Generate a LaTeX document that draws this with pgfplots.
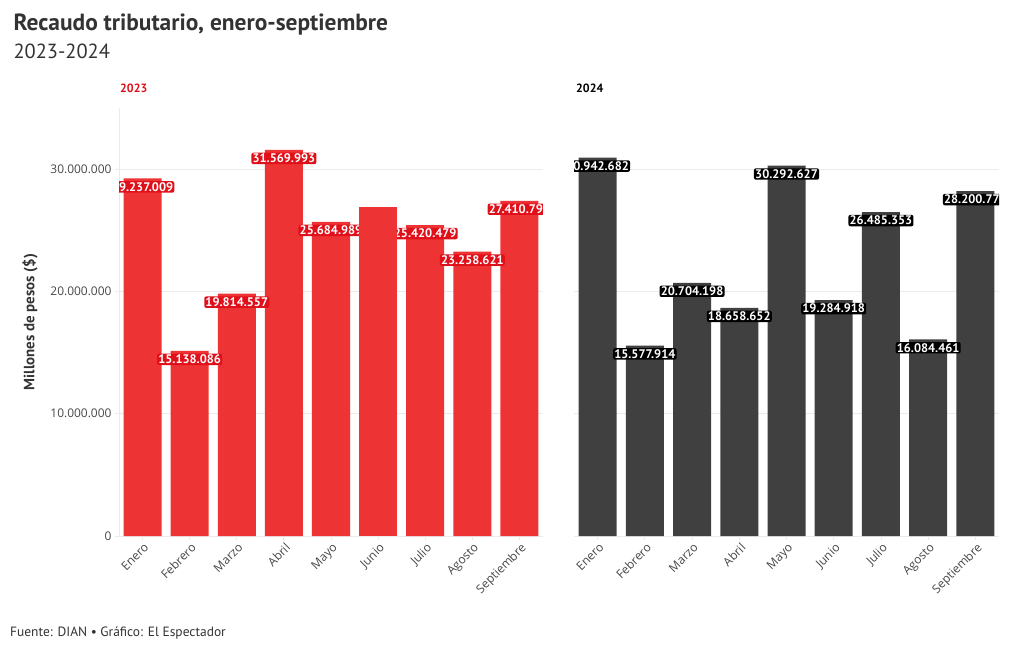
\documentclass[border=0pt]{standalone}
\usepackage{fontspec}
\setmainfont{PT Sans}
\newfontfamily\osans{Open Sans}
\usepackage{pgfplots}
\pgfplotsset{compat=1.18}

\definecolor{rojo}{HTML}{EE3335}
\definecolor{rojolab}{HTML}{E0101A}
\definecolor{gris}{HTML}{404040}
\definecolor{texto}{HTML}{333333}
\definecolor{rejilla}{HTML}{EBEBEB}

\pgfplotsset{
  panel/.style={
    ybar, bar width=38bp,
    scale only axis, width=424bp, height=428bp,
    xmin=-0.5, xmax=8.5, ymin=0, ymax=35000000,
    xtick={0,...,8},
    xticklabels={Enero,Febrero,Marzo,Abril,Mayo,Junio,Julio,Agosto,Septiembre},
    ytick={0,10000000,20000000,30000000},
    scaled y ticks=false,
    ymajorgrids, grid style={rejilla, line width=0.8pt},
    axis lines=left, axis line style={-, rejilla, line width=0.8pt},
    tick style={rejilla, line width=0.8pt}, major tick length=4bp,
    tick align=outside,
    clip marker paths=true,
    /pgf/number format/assume math mode=true,
    yticklabel={\pgfmathprintnumber[fixed, precision=0, 1000 sep={.}]{\tick}},
    yticklabel style={font=\osans\fontsize{12}{13}\selectfont, text=texto!90},
    xticklabel style={font=\osans\fontsize{12}{13}\selectfont, text=texto!90,
      rotate=45, anchor=north east, inner sep=1bp, yshift=-1bp},
    every node near coord/.append style={anchor=north, font=\bfseries\fontsize{12.5}{13}\selectfont,
      text=white, inner sep=1.2bp, rounded corners=2bp, yshift=-2.5bp},
  }
}

\begin{document}
\begin{tikzpicture}
\path[use as bounding box] (0,0) rectangle (1020bp,-650bp);

\node[anchor=base west, font=\bfseries\fontsize{23.5}{26}\selectfont, text=texto] at (10bp,-30bp) {Recaudo tributario, enero-septiembre};
\node[anchor=base west, font=\fontsize{20.5}{24}\selectfont, text=texto] at (10bp,-58bp) {2023-2024};
\node[anchor=base west, font=\bfseries\fontsize{12}{13}\selectfont, text=rojolab, inner sep=0pt] at (120bp,-92bp) {2023};
\node[anchor=base west, font=\bfseries\fontsize{12}{13}\selectfont, text=black, inner sep=0pt] at (576bp,-92bp) {2024};
\node[rotate=90, font=\bfseries\fontsize{15}{16}\selectfont, text=texto] at (30bp,-322bp) {Millones de pesos (\$)};
\node[anchor=base west, font=\fontsize{13.5}{15}\selectfont, text=texto, inner sep=0pt] at (10bp,-636bp) {Fuente: DIAN • Gráfico: El Espectador};

\begin{axis}[panel, at={(119bp,-536bp)}, anchor=south west,
  every node near coord/.append style={fill=rojolab}]
\addplot[fill=rojo, draw=none, bar shift=0pt,
  point meta=explicit symbolic, nodes near coords] coordinates {
  (0,29237009) [29.237.009]
  (1,15138086) [15.138.086]
  (2,19814557) [19.814.557]
  (3,31569993) [31.569.993]
  (4,25684989) [25.684.989]
  (6,25420479) [25.420.479]
  (7,23258621) [23.258.621]
  (8,27410790) [27.410.790]
};
\addplot[fill=rojo, draw=none, bar shift=0pt] coordinates {
  (5,26900000)
};
\end{axis}

\begin{axis}[panel, at={(574bp,-536bp)}, anchor=south west, width=425bp,
  yticklabels={}, y axis line style={draw=none}, ytick style={draw=none},
  every node near coord/.append style={fill=black}]
\addplot[fill=gris, draw=none, bar shift=0pt,
  point meta=explicit symbolic, nodes near coords] coordinates {
  (0,30942682) [30.942.682]
  (1,15577914) [15.577.914]
  (2,20704198) [20.704.198]
  (3,18658652) [18.658.652]
  (4,30292627) [30.292.627]
  (5,19284918) [19.284.918]
  (6,26485353) [26.485.353]
  (7,16084461) [16.084.461]
  (8,28200770) [28.200.770]
};
\end{axis}
\end{tikzpicture}
\end{document}
